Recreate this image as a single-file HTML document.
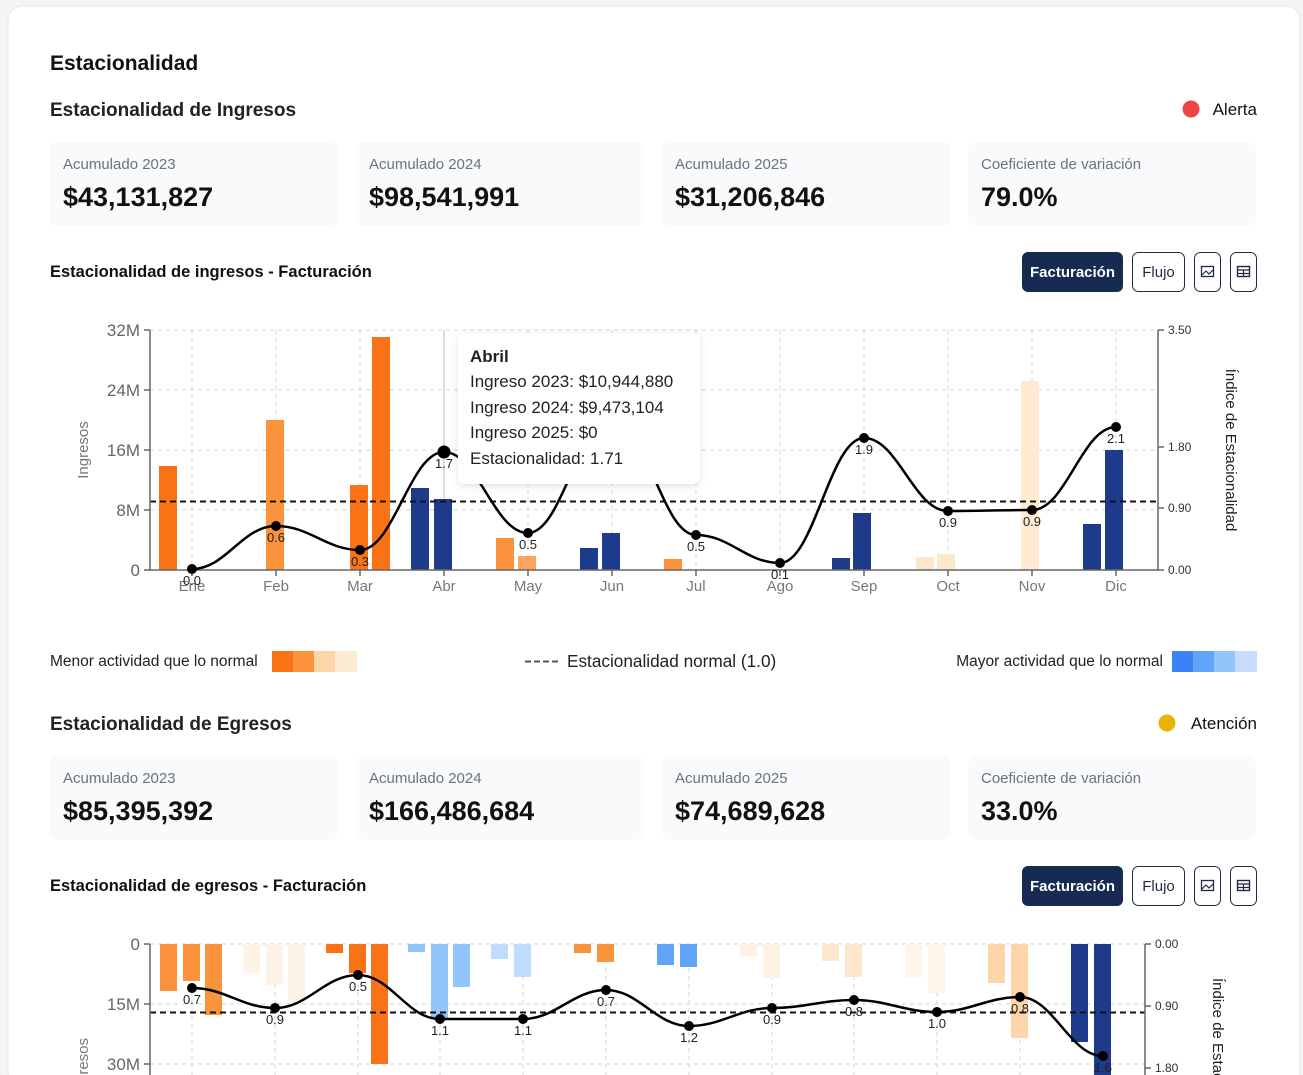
<!DOCTYPE html>
<html><head><meta charset="utf-8"><style>
html,body{margin:0;padding:0;background:#f4f5f7;width:1303px;height:1075px;overflow:hidden}
svg{display:block;font-family:"Liberation Sans",sans-serif}
</style></head><body>
<svg width="1303" height="1075" viewBox="0 0 1303 1075" xmlns="http://www.w3.org/2000/svg">
<defs>
<filter id="sh" x="-10%" y="-10%" width="120%" height="130%"><feDropShadow dx="0" dy="2" stdDeviation="4" flood-color="#000" flood-opacity="0.12"/></filter>
</defs>
<rect x="8" y="6" width="1292" height="1080" rx="14" fill="#fff" stroke="#e5e7eb"/>
<text x="50" y="70" font-size="21" font-weight="bold" fill="#111">Estacionalidad</text>
<text x="50" y="116" font-size="19" font-weight="bold" fill="#222">Estacionalidad de Ingresos</text>
<circle cx="1191" cy="109" r="8.5" fill="#ef4444"/>
<text x="1257" y="115" font-size="17" fill="#111" text-anchor="end">Alerta</text>

<g font-size="15" fill="#6b7280">
<rect x="50" y="142" width="288" height="84" rx="8" fill="#f8fafc"/>
<rect x="356" y="142" width="288" height="84" rx="8" fill="#f8fafc"/>
<rect x="662" y="142" width="288" height="84" rx="8" fill="#f8fafc"/>
<rect x="968" y="142" width="288" height="84" rx="8" fill="#f8fafc"/>
<text x="63" y="169">Acumulado 2023</text><text x="369" y="169">Acumulado 2024</text>
<text x="675" y="169">Acumulado 2025</text><text x="981" y="169">Coeficiente de variación</text>
</g>
<g font-size="27" font-weight="bold" fill="#111">
<text x="63" y="206">$43,131,827</text><text x="369" y="206">$98,541,991</text>
<text x="675" y="206">$31,206,846</text><text x="981" y="206">79.0%</text>
</g>

<text x="50" y="277" font-size="16.5" font-weight="bold" fill="#111">Estacionalidad de ingresos - Facturación</text>
<g>
<rect x="1022" y="252" width="101" height="40" rx="6" fill="#172b52"/>
<text x="1072.5" y="277" font-size="15" font-weight="bold" fill="#fff" text-anchor="middle">Facturación</text>
<rect x="1132.5" y="252.5" width="52" height="39" rx="6" fill="#fff" stroke="#1e2a44"/>
<text x="1158.5" y="277" font-size="15" fill="#1e2a44" text-anchor="middle">Flujo</text>
<rect x="1194.5" y="252.5" width="26" height="39" rx="6" fill="#fff" stroke="#1e2a44"/>
<rect x="1201.5" y="266.5" width="12" height="10" fill="none" stroke="#1e2a44" stroke-width="1.3"/>
<path d="M1202 275 L1206 271 L1209 274 L1213 270" fill="none" stroke="#1e2a44" stroke-width="1.2"/>
<rect x="1230.5" y="252.5" width="26" height="39" rx="6" fill="#fff" stroke="#1e2a44"/>
<rect x="1237.5" y="266.5" width="12" height="10" fill="none" stroke="#1e2a44" stroke-width="1.4"/>
<path d="M1237.5 270 H1249.5 M1237.5 273.5 H1249.5 M1243.5 270 V276.5" stroke="#1e2a44" stroke-width="1.2"/>
</g>

<!-- TOP CHART -->
<g stroke="#d4d4d4" stroke-dasharray="4 4" stroke-width="1">
<path d="M150 330H1158M150 390H1158M150 450H1158M150 510H1158"/>
<path d="M192 330V570M276 330V570M360 330V570M528 330V570M612 330V570M696 330V570M780 330V570M864 330V570M948 330V570M1032 330V570M1116 330V570"/>
</g>
<path d="M444 330V570" stroke="#bbb"/>
<g>
<rect x="159" y="466" width="18" height="104" fill="#f97316"/>
<rect x="266" y="420" width="18" height="150" fill="#fb923c"/>
<rect x="350" y="485" width="18" height="85" fill="#f97316"/>
<rect x="372" y="337" width="18" height="233" fill="#f97316"/>
<rect x="411" y="488" width="18" height="82" fill="#1e3a8a"/>
<rect x="434" y="499" width="18" height="71" fill="#1e3a8a"/>
<rect x="496" y="538" width="18" height="32" fill="#fb923c"/>
<rect x="518" y="556" width="18" height="14" fill="#fda45c"/>
<rect x="580" y="548" width="18" height="22" fill="#1e3a8a"/>
<rect x="602" y="533" width="18" height="37" fill="#1e3a8a"/>
<rect x="664" y="559" width="18" height="11" fill="#fb923c"/>
<rect x="832" y="558" width="18" height="12" fill="#1e3a8a"/>
<rect x="853" y="513" width="18" height="57" fill="#1e3a8a"/>
<rect x="916" y="557" width="18" height="13" fill="#fde8cf"/>
<rect x="937" y="554" width="18" height="16" fill="#fde8cf"/>
<rect x="1021" y="381" width="18" height="189" fill="#feebd2"/>
<rect x="1083" y="524" width="18" height="46" fill="#1e3a8a"/>
<rect x="1105" y="450" width="18" height="120" fill="#1e3a8a"/>
</g>
<path d="M150 501.5H1158" stroke="#111" stroke-width="2" stroke-dasharray="6 4"/>
<g stroke="#666" stroke-width="1.5" fill="none">
<path d="M150 330V570H1158V330"/>
<path d="M144 330H150M144 390H150M144 450H150M144 510H150M144 570H150"/>
<path d="M1158 330H1164M1158 447H1164M1158 508H1164M1158 570H1164"/>
<path d="M192 570v6M276 570v6M360 570v6M444 570v6M528 570v6M612 570v6M696 570v6M780 570v6M864 570v6M948 570v6M1032 570v6M1116 570v6"/>
</g>
<g font-size="17" fill="#666" text-anchor="end">
<text x="140" y="336">32M</text><text x="140" y="396">24M</text><text x="140" y="456">16M</text><text x="140" y="516">8M</text><text x="140" y="576">0</text>
</g>
<g font-size="12" fill="#333">
<text x="1168" y="334">3.50</text><text x="1168" y="451">1.80</text><text x="1168" y="512">0.90</text><text x="1168" y="574">0.00</text>
</g>
<text transform="translate(88,450) rotate(-90)" font-size="15" fill="#777" text-anchor="middle">Ingresos</text>
<text transform="translate(1226,450) rotate(90)" font-size="15" fill="#222" text-anchor="middle">Índice de Estacionalidad</text>
<g font-size="15" fill="#777" text-anchor="middle">
<text x="192" y="591">Ene</text><text x="276" y="591">Feb</text><text x="360" y="591">Mar</text><text x="444" y="591">Abr</text><text x="528" y="591">May</text><text x="612" y="591">Jun</text><text x="696" y="591">Jul</text><text x="780" y="591">Ago</text><text x="864" y="591">Sep</text><text x="948" y="591">Oct</text><text x="1032" y="591">Nov</text><text x="1116" y="591">Dic</text>
</g>
<path d="M192,569 C226,569 242,526 276,526 C310,526 326,550 360,550 C394,550 410,452 444,452 C478,452 494,533 528,533 C562,533 578,420 612,420 C646,420 662,535 696,535 C730,535 746,563 780,563 C814,563 830,438 864,438 C898,438 914,511 948,511 C982,511 998,510 1032,510 C1066,510 1082,427 1116,427" fill="none" stroke="#000" stroke-width="2.5"/>
<g fill="#000">
<circle cx="192" cy="569" r="5"/><circle cx="276" cy="526" r="5"/><circle cx="360" cy="550" r="5"/><circle cx="444" cy="452" r="6.5"/><circle cx="528" cy="533" r="5"/><circle cx="696" cy="535" r="5"/><circle cx="780" cy="563" r="5"/><circle cx="864" cy="438" r="5"/><circle cx="948" cy="511" r="5"/><circle cx="1032" cy="510" r="5"/><circle cx="1116" cy="427" r="5"/>
</g>
<g font-size="13" fill="#222" text-anchor="middle">
<text x="192" y="585">0.0</text><text x="276" y="542">0.6</text><text x="360" y="566">0.3</text><text x="444" y="468">1.7</text><text x="528" y="549">0.5</text><text x="696" y="551">0.5</text><text x="780" y="579">0.1</text><text x="864" y="454">1.9</text><text x="948" y="527">0.9</text><text x="1032" y="526">0.9</text><text x="1116" y="443">2.1</text>
</g>
<rect x="458" y="333" width="242" height="151" rx="7" fill="#fff" filter="url(#sh)"/>
<g font-size="17" fill="#222">
<text x="470" y="362" font-weight="bold">Abril</text>
<text x="470" y="387">Ingreso 2023: $10,944,880</text>
<text x="470" y="413">Ingreso 2024: $9,473,104</text>
<text x="470" y="438">Ingreso 2025: $0</text>
<text x="470" y="464">Estacionalidad: 1.71</text>
</g>

<!-- legend -->
<text x="50" y="666" font-size="15.5" fill="#222">Menor actividad que lo normal</text>
<rect x="272" y="651" width="22" height="21" fill="#f97316"/><rect x="293" y="651" width="22" height="21" fill="#fb923c"/><rect x="314" y="651" width="22" height="21" fill="#fdd5a8"/><rect x="335" y="651" width="22" height="21" fill="#feebd6"/>
<path d="M525 661.5H560" stroke="#555" stroke-width="2" stroke-dasharray="6 3"/>
<text x="567" y="667" font-size="17.2" fill="#222">Estacionalidad normal (1.0)</text>
<text x="1163" y="666" font-size="15.5" fill="#222" text-anchor="end">Mayor actividad que lo normal</text>
<rect x="1172" y="651" width="22" height="21" fill="#3b82f6"/><rect x="1193" y="651" width="22" height="21" fill="#60a5fa"/><rect x="1214" y="651" width="22" height="21" fill="#93c5fd"/><rect x="1235" y="651" width="22" height="21" fill="#c7dbfc"/>

<!-- SECTION 2 -->
<text x="50" y="730" font-size="19" font-weight="bold" fill="#222">Estacionalidad de Egresos</text>
<circle cx="1167" cy="723" r="8.5" fill="#eab308"/>
<text x="1257" y="729" font-size="17" fill="#111" text-anchor="end">Atención</text>
<g font-size="15" fill="#6b7280">
<rect x="50" y="756" width="288" height="84" rx="8" fill="#f8fafc"/>
<rect x="356" y="756" width="288" height="84" rx="8" fill="#f8fafc"/>
<rect x="662" y="756" width="288" height="84" rx="8" fill="#f8fafc"/>
<rect x="968" y="756" width="288" height="84" rx="8" fill="#f8fafc"/>
<text x="63" y="783">Acumulado 2023</text><text x="369" y="783">Acumulado 2024</text>
<text x="675" y="783">Acumulado 2025</text><text x="981" y="783">Coeficiente de variación</text>
</g>
<g font-size="27" font-weight="bold" fill="#111">
<text x="63" y="820">$85,395,392</text><text x="369" y="820">$166,486,684</text>
<text x="675" y="820">$74,689,628</text><text x="981" y="820">33.0%</text>
</g>
<text x="50" y="891" font-size="16.5" font-weight="bold" fill="#111">Estacionalidad de egresos - Facturación</text>
<g>
<rect x="1022" y="866" width="101" height="40" rx="6" fill="#172b52"/>
<text x="1072.5" y="891" font-size="15" font-weight="bold" fill="#fff" text-anchor="middle">Facturación</text>
<rect x="1132.5" y="866.5" width="52" height="39" rx="6" fill="#fff" stroke="#1e2a44"/>
<text x="1158.5" y="891" font-size="15" fill="#1e2a44" text-anchor="middle">Flujo</text>
<rect x="1194.5" y="866.5" width="26" height="39" rx="6" fill="#fff" stroke="#1e2a44"/>
<rect x="1201.5" y="880.5" width="12" height="10" fill="none" stroke="#1e2a44" stroke-width="1.3"/>
<path d="M1202 889 L1206 885 L1209 888 L1213 884" fill="none" stroke="#1e2a44" stroke-width="1.2"/>
<rect x="1230.5" y="866.5" width="26" height="39" rx="6" fill="#fff" stroke="#1e2a44"/>
<rect x="1237.5" y="880.5" width="12" height="10" fill="none" stroke="#1e2a44" stroke-width="1.4"/>
<path d="M1237.5 884 H1249.5 M1237.5 887.5 H1249.5 M1243.5 884 V890.5" stroke="#1e2a44" stroke-width="1.2"/>
</g>

<!-- BOTTOM CHART -->
<g stroke="#d4d4d4" stroke-dasharray="4 4">
<path d="M150 944H1145M150 1004H1145M150 1064H1145"/>
<path d="M192 944V1075M275 944V1075M358 944V1075M440 944V1075M523 944V1075M606 944V1075M689 944V1075M772 944V1075M854 944V1075M937 944V1075M1020 944V1075M1103 944V1075"/>
</g>
<g>
<rect x="160" y="944" width="17" height="47" fill="#fb923c"/><rect x="183" y="944" width="17" height="37" fill="#fb923c"/><rect x="205" y="944" width="17" height="71" fill="#fb923c"/>
<rect x="243" y="944" width="17" height="29" fill="#fdf3e6"/><rect x="266" y="944" width="17" height="41" fill="#fdf3e6"/><rect x="288" y="944" width="17" height="58" fill="#fdf3e6"/>
<rect x="326" y="944" width="17" height="9" fill="#f97316"/><rect x="349" y="944" width="17" height="29" fill="#f97316"/><rect x="371" y="944" width="17" height="120" fill="#f97316"/>
<rect x="408" y="944" width="17" height="8" fill="#93c5fd"/><rect x="431" y="944" width="17" height="74" fill="#93c5fd"/><rect x="453" y="944" width="17" height="43" fill="#93c5fd"/>
<rect x="491" y="944" width="17" height="15" fill="#bfdbfe"/><rect x="514" y="944" width="17" height="33" fill="#bfdbfe"/>
<rect x="574" y="944" width="17" height="9" fill="#fb923c"/><rect x="597" y="944" width="17" height="18" fill="#fb923c"/>
<rect x="657" y="944" width="17" height="21" fill="#60a5fa"/><rect x="680" y="944" width="17" height="23" fill="#60a5fa"/>
<rect x="740" y="944" width="17" height="12" fill="#fef3e2"/><rect x="763" y="944" width="17" height="34" fill="#fef3e2"/>
<rect x="822" y="944" width="17" height="17" fill="#fde8cf"/><rect x="845" y="944" width="17" height="33" fill="#fde8cf"/>
<rect x="905" y="944" width="17" height="34" fill="#fef6ea"/><rect x="928" y="944" width="17" height="49" fill="#fef6ea"/>
<rect x="988" y="944" width="17" height="39" fill="#fdd5a8"/><rect x="1011" y="944" width="17" height="94" fill="#fdd5a8"/>
<rect x="1071" y="944" width="17" height="98" fill="#1e3a8a"/><rect x="1094" y="944" width="17" height="131" fill="#1e3a8a"/>
</g>
<path d="M150 1012.5H1145" stroke="#111" stroke-width="2" stroke-dasharray="6 4"/>
<g stroke="#666" stroke-width="1.5" fill="none">
<path d="M150 944V1075M1145 944V1075"/>
<path d="M144 944H150M144 1004H150M144 1064H150M1145 944H1151M1145 1006H1151M1145 1068H1151"/>
</g>
<g font-size="17" fill="#666" text-anchor="end">
<text x="140" y="950">0</text><text x="140" y="1010">15M</text><text x="140" y="1070">30M</text>
</g>
<g font-size="12" fill="#333">
<text x="1155" y="948">0.00</text><text x="1155" y="1010">0.90</text><text x="1155" y="1072">1.80</text>
</g>
<text transform="translate(88,1093) rotate(-90)" font-size="15" fill="#777" text-anchor="start">Egresos</text>
<text transform="translate(1213,978) rotate(90)" font-size="15" fill="#222">Índice de Estacionalidad</text>
<path d="M192,988 C225,988 242,1008 275,1008 C308,1008 325,975 358,975 C391,975 407,1019 440,1019 C473,1019 490,1019 523,1019 C556,1019 573,990 606,990 C639,990 656,1026 689,1026 C722,1026 739,1008 772,1008 C805,1008 821,1000 854,1000 C887,1000 904,1012 937,1012 C970,1012 987,997 1020,997 C1053,997 1070,1056 1103,1056" fill="none" stroke="#000" stroke-width="2.5"/>
<g fill="#000">
<circle cx="192" cy="988" r="5"/><circle cx="275" cy="1008" r="5"/><circle cx="358" cy="975" r="5"/><circle cx="440" cy="1019" r="5"/><circle cx="523" cy="1019" r="5"/><circle cx="606" cy="990" r="5"/><circle cx="689" cy="1026" r="5"/><circle cx="772" cy="1008" r="5"/><circle cx="854" cy="1000" r="5"/><circle cx="937" cy="1012" r="5"/><circle cx="1020" cy="997" r="5"/><circle cx="1103" cy="1056" r="5"/>
</g>
<g font-size="13" fill="#222" text-anchor="middle">
<text x="192" y="1004">0.7</text><text x="275" y="1024">0.9</text><text x="358" y="991">0.5</text><text x="440" y="1035">1.1</text><text x="523" y="1035">1.1</text><text x="606" y="1006">0.7</text><text x="689" y="1042">1.2</text><text x="772" y="1024">0.9</text><text x="854" y="1016">0.8</text><text x="937" y="1028">1.0</text><text x="1020" y="1013">0.8</text><text x="1103" y="1072">1.6</text>
</g>
</svg>
</body></html>
